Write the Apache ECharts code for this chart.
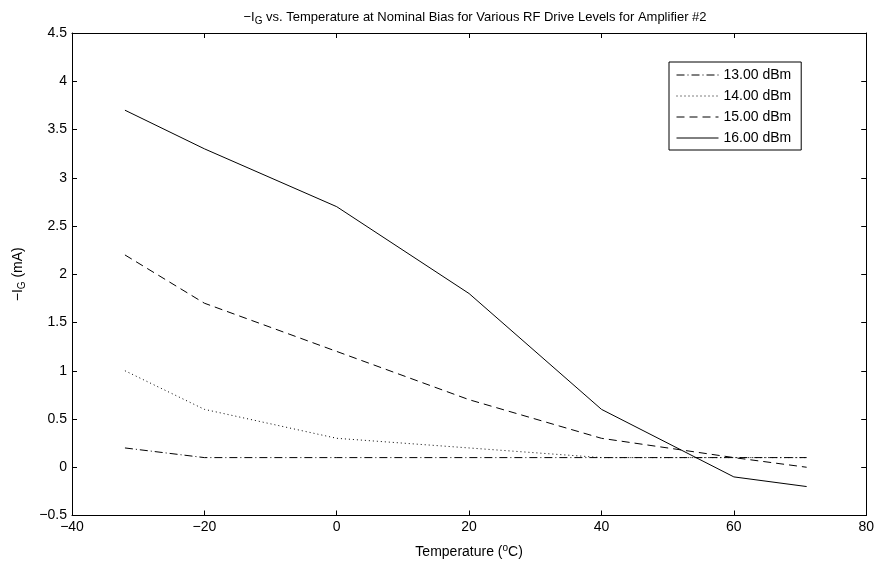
<!DOCTYPE html>
<html>
<head>
<meta charset="utf-8">
<script src="https://cdn.jsdelivr.net/npm/echarts@6/dist/echarts.min.js"></script>
<style>
  html, body { margin: 0; padding: 0; background: #fff; }
  #main { width: 877px; height: 564px; }
</style>
</head>
<body>
<div id="main"></div>
<script>
// 温度 (°C)
const temps = [-32, -20, 0, 20, 40, 60, 71];
// 各驱动电平下的 -IG (mA)
const ig13 = [0.2, 0.1, 0.1, 0.1, 0.1, 0.1, 0.1];
const ig14 = [1.0, 0.6, 0.3, 0.2, 0.1, 0.1, 0.1];
const ig15 = [2.2, 1.7, 1.2, 0.7, 0.3, 0.1, 0.0];
const ig16 = [3.7, 3.3, 2.7, 1.8, 0.6, -0.1, -0.2];
const levels = ['13.00 dBm', '14.00 dBm', '15.00 dBm', '16.00 dBm'];
const dashes = [[8, 3, 1, 3], [1, 3], [8, 5], 'solid'];

const font = 'Liberation Sans, Arial, sans-serif';

function pairs(ys) {
  return temps.map((t, i) => [t, ys[i]]);
}

let chart = echarts.init(document.getElementById('main'));

let seriesList = [ig13, ig14, ig15, ig16].map((ys, i) => ({
  name: levels[i],
  type: 'line',
  data: pairs(ys),
  symbol: 'none',
  animation: false,
  lineStyle: { color: '#000', width: 1, type: dashes[i] },
  itemStyle: { color: '#000' }
}));

// 边框轴（上、右），只画刻度
let frameAxis = {
  type: 'value',
  axisLine: { show: true, onZero: false, lineStyle: { color: '#000', width: 1 } },
  axisTick: { show: true, inside: true, length: 5, lineStyle: { color: '#000' } },
  axisLabel: { show: false },
  splitLine: { show: false }
};

let minus = v => (v < 0 ? '−' + Math.abs(v) : String(v));

let option = {
  backgroundColor: '#fff',
  title: {
    text: '{n|−I}{sub|G}{n| vs. Temperature at Nominal Bias for Various RF Drive Levels for Amplifier #2}',
    left: 470,
    textAlign: 'center',
    top: 3,
    textStyle: {
      rich: {
        n: { fontFamily: font, fontSize: 13, fontWeight: 'normal', color: '#000', lineHeight: 18 },
        sub: { fontFamily: font, fontSize: 10, fontWeight: 'normal', color: '#000', lineHeight: 18, padding: [9, 0, 0, 0] }
      }
    }
  },
  legend: {
    left: 669,
    top: 62,
    orient: 'vertical',
    data: levels,
    itemWidth: 42,
    itemHeight: 14,
    itemGap: 7,
    padding: [6, 10, 5, 7],
    borderColor: '#000',
    borderWidth: 1,
    backgroundColor: '#fff',
    itemStyle: { opacity: 0 },
    lineStyle: { width: 1 },
    textStyle: { fontFamily: font, fontSize: 14, color: '#000' }
  },
  grid: { left: 72, right: 8, top: 33, bottom: 48 },
  xAxis: [
    {
      type: 'value',
      min: -40,
      max: 80,
      interval: 20,
      name: '{n|Temperature (}{sup|o}{n|C)}',
      nameLocation: 'middle',
      nameGap: 28,
      nameTextStyle: {
        rich: {
          n: { fontFamily: font, fontSize: 14, color: '#000' },
          sup: { fontFamily: font, fontSize: 10, color: '#000', padding: [0, 0, 7, 0] }
        }
      },
      axisLine: { show: true, onZero: false, lineStyle: { color: '#000', width: 1 } },
      axisTick: { show: true, inside: true, length: 5, lineStyle: { color: '#000' } },
      axisLabel: { fontFamily: font, fontSize: 14, color: '#000', margin: 5, formatter: minus },
      splitLine: { show: false }
    },
    Object.assign({ position: 'top', min: -40, max: 80, interval: 20 }, frameAxis)
  ],
  yAxis: [
    {
      type: 'value',
      min: -0.5,
      max: 4.5,
      interval: 0.5,
      name: '{n|−I}{sub|G}{n| (mA)}',
      nameLocation: 'middle',
      nameRotate: 90,
      nameGap: 44,
      nameTextStyle: {
        rich: {
          n: { fontFamily: font, fontSize: 14, color: '#000', lineHeight: 20 },
          sub: { fontFamily: font, fontSize: 10, color: '#000', lineHeight: 20, padding: [9, 0, 0, 0] }
        }
      },
      axisLine: { show: true, onZero: false, lineStyle: { color: '#000', width: 1 } },
      axisTick: { show: true, inside: true, length: 5, lineStyle: { color: '#000' } },
      axisLabel: { fontFamily: font, fontSize: 14, color: '#000', margin: 5, formatter: minus },
      splitLine: { show: false }
    },
    Object.assign({ position: 'right', min: -0.5, max: 4.5, interval: 0.5 }, frameAxis)
  ],
  series: seriesList
};

chart.setOption(option);
</script>
</body>
</html>
